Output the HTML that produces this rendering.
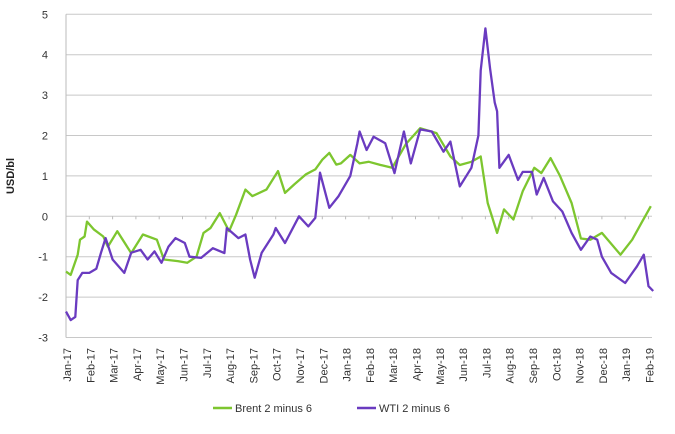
<!DOCTYPE html>
<html><head><meta charset="utf-8"><style>
html,body{margin:0;padding:0;background:#fff;}
svg{display:block;font-family:"Liberation Sans",sans-serif;}
</style></head><body>
<svg id="chart" width="675" height="434" viewBox="0 0 675 434">
<g id="grid"></g>
<g id="yticks"></g>
<g id="xaxis"></g>
<g id="series"></g>
<text x="14" y="176" transform="rotate(-90 14 176)" text-anchor="middle" font-size="11" font-weight="bold" fill="#222">USD/bl</text>
<g>
<g>
<line x1="213" y1="408" x2="232" y2="408" stroke="#7dc62f" stroke-width="2.5"/>
<text x="235" y="412" font-size="11" fill="#333">Brent 2 minus 6</text></g>
<g>
<line x1="357" y1="408" x2="376" y2="408" stroke="#6a3bc0" stroke-width="2.5"/>
<text x="379" y="412" font-size="11" fill="#333">WTI 2 minus 6</text></g>
</g>
</svg>
<script>
const monthLabels=["Jan-17","Feb-17","Mar-17","Apr-17","May-17","Jun-17","Jul-17","Aug-17","Sep-17","Oct-17","Nov-17","Dec-17","Jan-18","Feb-18","Mar-18","Apr-18","May-18","Jun-18","Jul-18","Aug-18","Sep-18","Oct-18","Nov-18","Dec-18","Jan-19","Feb-19"];
const yTicks=[5,4,3,2,1,0,-1,-2,-3];
// month offsets from Jan-17
const brentT=[0,0.2,0.5,0.6,0.8,0.9,1.2,1.6,1.8,2.2,2.8,3.3,3.9,4.2,4.8,5.2,5.6,5.9,6.2,6.6,7.0,7.3,7.7,8.0,8.6,9.1,9.4,9.8,10.3,10.7,11.0,11.3,11.6,11.8,12.2,12.6,13.0,13.5,14.0,14.6,15.2,15.9,16.5,16.9,17.4,17.8,18.1,18.5,18.8,19.2,19.6,20.1,20.4,20.8,21.2,21.7,22.1,22.5,23.0,23.8,24.3,24.7,25.1];
const brentV=[-1.37,-1.45,-0.95,-0.58,-0.5,-0.13,-0.33,-0.5,-0.75,-0.37,-0.91,-0.45,-0.58,-1.07,-1.11,-1.15,-1.0,-0.41,-0.29,0.08,-0.37,0.04,0.66,0.5,0.66,1.12,0.58,0.79,1.04,1.16,1.4,1.57,1.28,1.31,1.52,1.31,1.35,1.27,1.2,1.8,2.18,2.06,1.48,1.27,1.35,1.48,0.33,-0.41,0.17,-0.08,0.62,1.2,1.07,1.44,1.0,0.33,-0.55,-0.58,-0.41,-0.95,-0.58,-0.16,0.25];
const wtiT=[0,0.2,0.4,0.5,0.7,1.0,1.3,1.5,1.7,2.0,2.5,2.8,3.2,3.5,3.8,4.1,4.4,4.7,5.1,5.3,5.8,6.3,6.8,6.9,7.4,7.7,7.9,8.1,8.4,8.9,9.0,9.4,10.0,10.4,10.7,10.9,11.3,11.7,12.2,12.5,12.6,12.9,13.2,13.7,14.1,14.5,14.8,15.2,15.7,16.2,16.5,16.9,17.4,17.7,17.8,18.0,18.2,18.4,18.5,18.6,19.0,19.4,19.6,20.0,20.2,20.5,20.9,21.3,21.7,22.1,22.5,22.8,23.0,23.4,24.0,24.5,24.8,25.0,25.2];
const wtiV=[-2.36,-2.57,-2.49,-1.58,-1.4,-1.4,-1.3,-0.9,-0.54,-1.07,-1.4,-0.9,-0.83,-1.07,-0.87,-1.15,-0.75,-0.54,-0.66,-1.0,-1.03,-0.79,-0.91,-0.29,-0.54,-0.45,-1.07,-1.52,-0.9,-0.45,-0.29,-0.66,0.0,-0.25,-0.04,1.08,0.21,0.5,1.0,1.8,2.1,1.64,1.97,1.81,1.07,2.1,1.31,2.15,2.1,1.6,1.85,0.74,1.2,2.0,3.61,4.65,3.65,2.82,2.6,1.2,1.52,0.9,1.1,1.1,0.54,0.95,0.37,0.12,-0.41,-0.83,-0.5,-0.58,-1.0,-1.4,-1.65,-1.24,-0.95,-1.73,-1.85];
const NS="http://www.w3.org/2000/svg";
const x0=66,x1=652,mw=23.3,yZero=216.3,yUnit=40.4;
function xs(m){return x0+m*mw;}
function ys(v){return yZero-v*yUnit;}
function mk(t,p,a){const e=document.createElementNS(NS,t);for(const k in a)e.setAttribute(k,a[k]);p.appendChild(e);return e;}
const grid=document.getElementById('grid'),yt=document.getElementById('yticks'),xa=document.getElementById('xaxis'),se=document.getElementById('series');
yTicks.forEach(v=>{
  const l=mk('line',grid,{x1:x0,x2:x1,y1:ys(v),y2:ys(v),stroke:'#c8c8c8','stroke-width':1});
  
  
  const t=mk('text',yt,{x:48,y:ys(v)+4,'text-anchor':'end','font-size':11,fill:'#333'});
  t.textContent=v;
  
  
});
const ax=mk('line',xa,{x1:x0,x2:x0,y1:ys(5),y2:ys(-3),stroke:'#bbb','stroke-width':1});


monthLabels.forEach((s,i)=>{
  const tk=mk('line',xa,{x1:xs(i),x2:xs(i),y1:ys(0),y2:ys(0)+3,stroke:'#bbb','stroke-width':1});
  
  
  const x=xs(i)+5,y=348;
  const t=mk('text',xa,{x:x,y:y,'text-anchor':'end','font-size':11,fill:'#333',transform:`rotate(-90 ${x} ${y})`});
  t.textContent=s;
  
  
});
function line(T,V,c,n){
  const d=T.map((m,i)=>(i?'L':'M')+xs(m).toFixed(1)+' '+ys(V[i]).toFixed(1)).join(' ');
  const p=mk('path',se,{d:d,fill:'none',stroke:c,'stroke-width':2.3,'stroke-linejoin':'round'});
  
  
}
line(brentT,brentV,'#7dc62f','brent-line');
line(wtiT,wtiV,'#6a3bc0','wti-line');
</script>
</body></html>
